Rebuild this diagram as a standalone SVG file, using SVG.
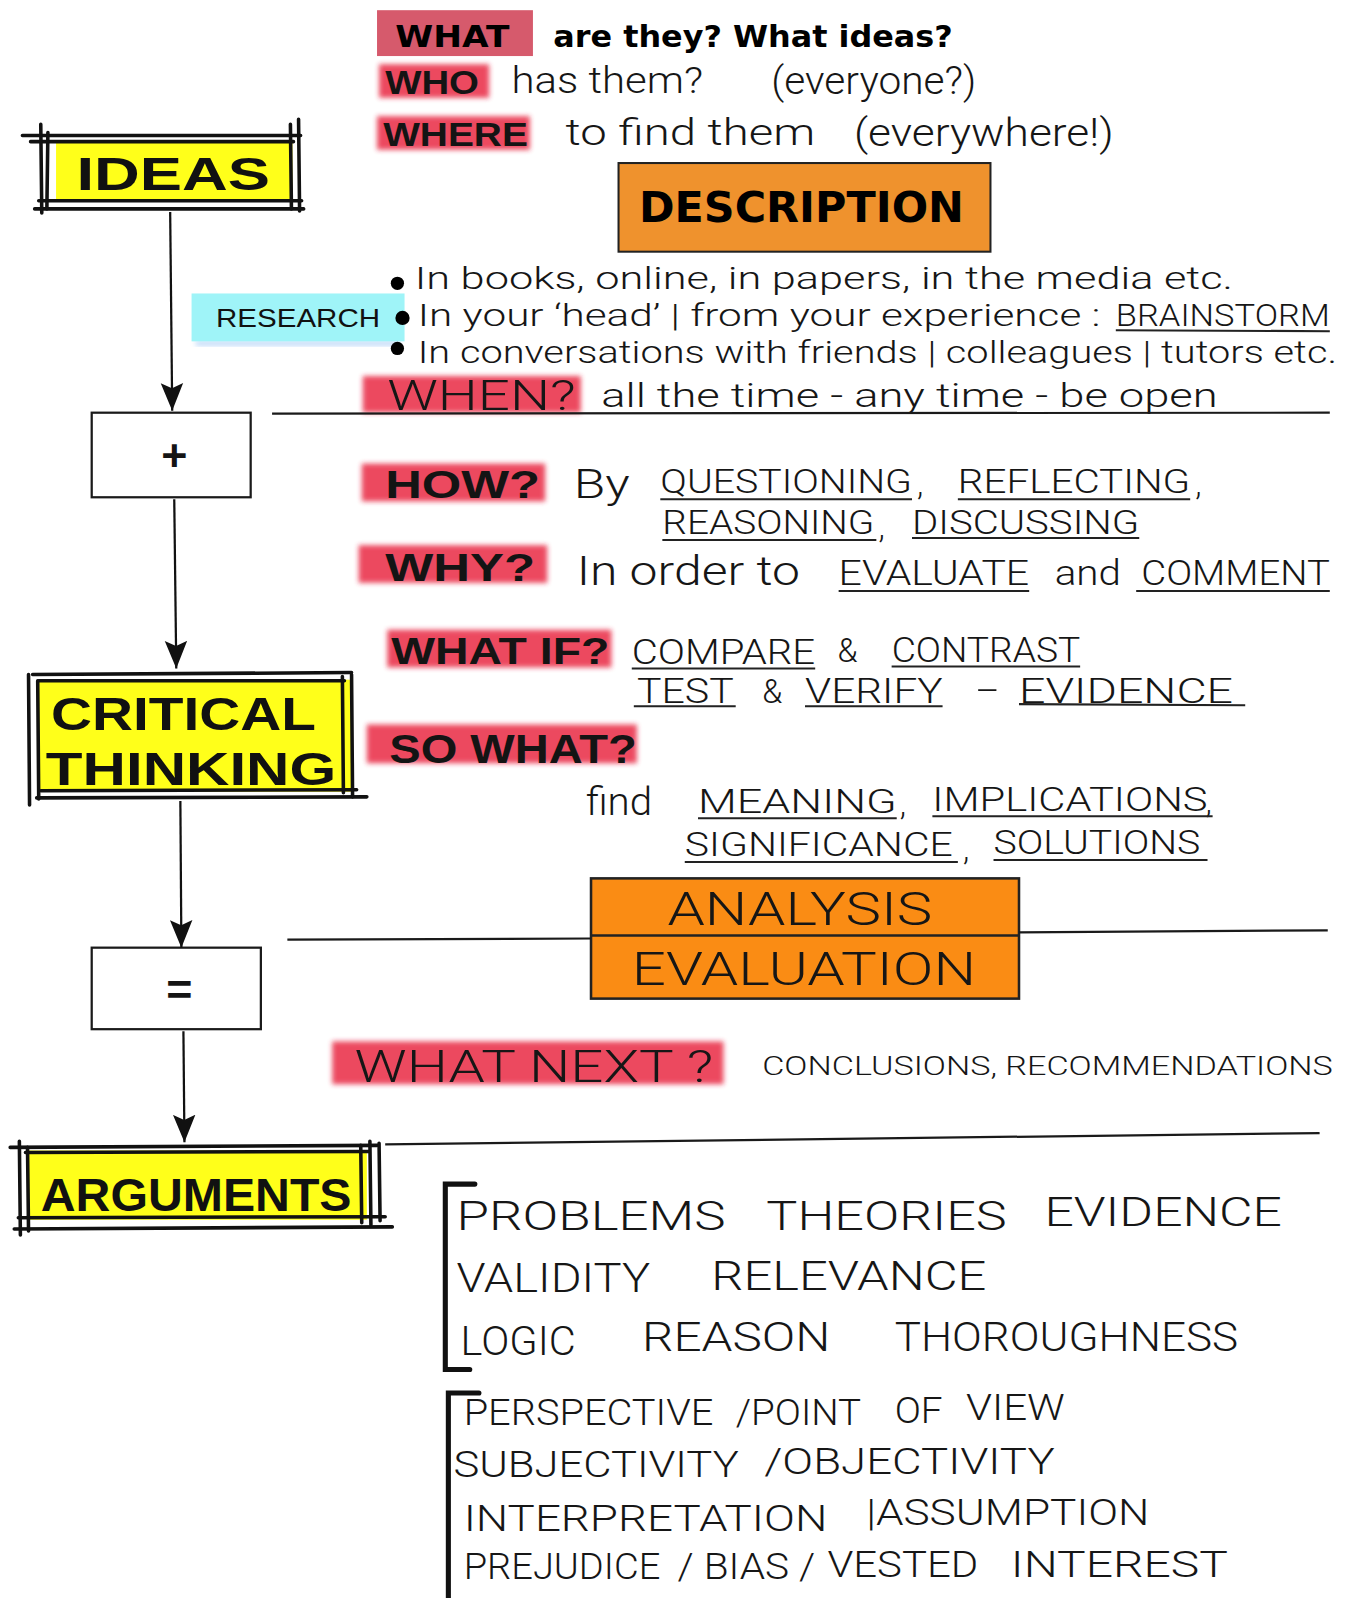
<svg xmlns="http://www.w3.org/2000/svg" width="1349" height="1598" viewBox="0 0 1349 1598">
  <defs>
    <filter id="smudge" x="-10%" y="-30%" width="120%" height="160%">
      <feGaussianBlur stdDeviation="2.6"/>
    </filter>
    <marker id="head" viewBox="0 -12 28 24" refX="27" refY="0" markerWidth="28" markerHeight="24" markerUnits="userSpaceOnUse" orient="auto">
      <path d="M0,-11 L27,0 L0,11 L5,0 Z" fill="#111"/>
    </marker>
    <style>
      .hand { font-family: Roboto, "Liberation Sans", "DejaVu Sans", sans-serif; font-weight: 300; fill: #161616; }
      .bold { font-family: "Liberation Sans", "DejaVu Sans", sans-serif; font-weight: bold; fill: #111; }
      .key { font-family: "Liberation Sans", "DejaVu Sans", sans-serif; font-weight: bold; fill: #141414; }
      .comic { font-family: "DejaVu Sans", "Liberation Sans", sans-serif; font-weight: bold; fill: #000; }
      .hl { fill: #e8233c; opacity: 0.82; filter: url(#smudge); }
      .ul { stroke: #222; stroke-width: 2; fill: none; }
      .ink { stroke: #111; fill: none; stroke-linecap: round; }
      .rule { stroke: #1a1a1a; stroke-width: 2.2; fill: none; }
      .conn { stroke: #111; stroke-width: 2.2; fill: none; marker-end: url(#head); }
      .plain { fill: #fff; stroke: #1a1a1a; stroke-width: 2.2; }
      .yellow { fill: #ffff1a; }
    </style>
  </defs>
  <rect width="1349" height="1598" fill="#fff"/>
  <g transform="scale(1.019)">

    <!-- heading questions -->
    <g id="what-heading">
      <rect x="370" y="10" width="153" height="45" fill="#d65a6c"/>
      <text class="comic" x="388" y="46" font-size="30" textLength="112" lengthAdjust="spacingAndGlyphs">WHAT</text>
      <text class="comic" x="543" y="46" font-size="30" textLength="392" lengthAdjust="spacingAndGlyphs">are they? What ideas?</text>
    </g>
    <g id="who-line">
      <rect class="hl" x="372" y="63" width="108" height="33"/>
      <text class="key" x="378" y="92" font-size="33" textLength="92" lengthAdjust="spacingAndGlyphs">WHO</text>
      <text class="hand" x="502" y="91" font-size="36" textLength="188" lengthAdjust="spacingAndGlyphs">has them?</text>
      <text class="hand" x="757" y="92" font-size="38" textLength="201" lengthAdjust="spacingAndGlyphs">(everyone?)</text>
    </g>
    <g id="where-line">
      <rect class="hl" x="370" y="114" width="150" height="33"/>
      <text class="key" x="376" y="143" font-size="33" textLength="142" lengthAdjust="spacingAndGlyphs">WHERE</text>
      <text class="hand" x="555" y="142" font-size="36" textLength="245" lengthAdjust="spacingAndGlyphs">to find them</text>
      <text class="hand" x="838" y="143" font-size="38" textLength="255" lengthAdjust="spacingAndGlyphs">(everywhere!)</text>
    </g>

    <!-- DESCRIPTION -->
    <g id="description">
      <rect x="607" y="160" width="365" height="87" fill="#ef922d" stroke="#222" stroke-width="2"/>
      <text class="comic" x="627" y="218" font-size="42" textLength="319" lengthAdjust="spacingAndGlyphs">DESCRIPTION</text>
    </g>

    <!-- IDEAS -->
    <g id="ideas">
      <rect class="yellow" x="55" y="140" width="232" height="57"/>
      <path class="ink" stroke-width="3.5" d="M22,133 L295,133 M30,139 L288,139 M38,197 L296,197 M34,205 L298,205"/>
      <path class="ink" stroke-width="3.5" d="M40,122 L41,209 M47,130 L46,205 M285,122 L286,205 M293,117 L294,207"/>
      <text class="bold" x="75" y="186" font-size="46" textLength="190" lengthAdjust="spacingAndGlyphs">IDEAS</text>
    </g>

    <!-- RESEARCH tag and bullets -->
    <g id="research">
      <rect x="192" y="335" width="200" height="4" fill="#6aa8f0" opacity="0.5" filter="url(#smudge)"/>
      <rect x="188" y="288" width="209" height="47" fill="#9ff4f8"/>
      <text x="212" y="321" font-family="'Liberation Sans', Arial, sans-serif" font-size="26" fill="#111" textLength="161" lengthAdjust="spacingAndGlyphs">RESEARCH</text>
    </g>
    <g id="sources">
      <circle cx="390" cy="278" r="6.5" fill="#000"/>
      <circle cx="395" cy="312" r="7" fill="#000"/>
      <circle cx="390" cy="342" r="6.5" fill="#000"/>
      <text class="hand" x="407" y="284" font-size="30" textLength="803" lengthAdjust="spacingAndGlyphs">In books, online, in papers, in the media etc.</text>
      <text class="hand" x="410" y="320" font-size="30" textLength="670" lengthAdjust="spacingAndGlyphs">In your ‘head’ | from your experience :</text>
      <text class="hand" x="1095" y="320" font-size="30" textLength="210" lengthAdjust="spacingAndGlyphs">BRAINSTORM</text>
      <path class="ul" d="M1095,324 L1305,325"/>
      <text class="hand" x="410" y="356" font-size="30" textLength="902" lengthAdjust="spacingAndGlyphs">In conversations with friends | colleagues | tutors etc.</text>
    </g>
    <g id="when-line">
      <rect class="hl" x="356" y="369" width="214" height="36"/>
      <text class="hand" x="380" y="402" font-size="42" font-weight="400" textLength="185" lengthAdjust="spacingAndGlyphs">WHEN?</text>
      <text class="hand" x="590" y="399" font-size="32" textLength="605" lengthAdjust="spacingAndGlyphs">all the time - any time - be open</text>
    </g>

    <!-- + -->
    <g id="plus">
      <rect class="plain" x="90" y="405" width="156" height="83"/>
      <text class="key" x="171" y="462" font-size="44" text-anchor="middle">+</text>
    </g>

    <!-- critical thinking questions -->
    <g id="how-line">
      <rect class="hl" x="355" y="455" width="180" height="37"/>
      <text class="key" x="378" y="489" font-size="38" textLength="152" lengthAdjust="spacingAndGlyphs">HOW?</text>
      <text class="hand" x="563" y="489" font-size="40" textLength="55" lengthAdjust="spacingAndGlyphs">By</text>
      <text class="hand" x="648" y="484" font-size="32" textLength="247" lengthAdjust="spacingAndGlyphs">QUESTIONING</text>
      <text class="hand" x="900" y="486" font-size="32">,</text>
      <text class="hand" x="940" y="484" font-size="32" textLength="228" lengthAdjust="spacingAndGlyphs">REFLECTING</text>
      <text class="hand" x="1173" y="486" font-size="32">,</text>
      <path class="ul" d="M648,490 L895,490 M940,490 L1168,490"/>
      <text class="hand" x="650" y="524" font-size="32" textLength="208" lengthAdjust="spacingAndGlyphs">REASONING</text>
      <text class="hand" x="862" y="528" font-size="32">,</text>
      <text class="hand" x="895" y="524" font-size="32" textLength="223" lengthAdjust="spacingAndGlyphs">DISCUSSING</text>
      <path class="ul" d="M650,530 L860,530 M895,528 L1118,528"/>
    </g>
    <g id="why-line">
      <rect class="hl" x="352" y="535" width="185" height="37"/>
      <text class="key" x="378" y="570" font-size="38" textLength="147" lengthAdjust="spacingAndGlyphs">WHY?</text>
      <text class="hand" x="566" y="574" font-size="40" textLength="219" lengthAdjust="spacingAndGlyphs">In order to</text>
      <text class="hand" x="823" y="574" font-size="34" textLength="187" lengthAdjust="spacingAndGlyphs">EVALUATE</text>
      <text class="hand" x="1035" y="574" font-size="34" textLength="65" lengthAdjust="spacingAndGlyphs">and</text>
      <text class="hand" x="1120" y="574" font-size="34" textLength="185" lengthAdjust="spacingAndGlyphs">COMMENT</text>
      <path class="ul" d="M823,580 L1010,580 M1115,580 L1305,580"/>
    </g>
    <g id="whatif-line">
      <rect class="hl" x="380" y="618" width="220" height="37"/>
      <text class="key" x="384" y="652" font-size="36" textLength="214" lengthAdjust="spacingAndGlyphs">WHAT IF?</text>
      <text class="hand" x="620" y="652" font-size="34" textLength="180" lengthAdjust="spacingAndGlyphs">COMPARE</text>
      <text class="hand" x="822" y="650" font-size="32">&amp;</text>
      <text class="hand" x="875" y="650" font-size="34" textLength="185" lengthAdjust="spacingAndGlyphs">CONTRAST</text>
      <path class="ul" d="M620,656 L800,656 M875,654 L1060,654"/>
      <text class="hand" x="625" y="690" font-size="34" textLength="95" lengthAdjust="spacingAndGlyphs">TEST</text>
      <text class="hand" x="748" y="690" font-size="32">&amp;</text>
      <text class="hand" x="790" y="690" font-size="34" textLength="135" lengthAdjust="spacingAndGlyphs">VERIFY</text>
      <text class="hand" x="958" y="688" font-size="34" textLength="22" lengthAdjust="spacingAndGlyphs">-</text>
      <text class="hand" x="1000" y="690" font-size="34" textLength="210" lengthAdjust="spacingAndGlyphs">EVIDENCE</text>
      <path class="ul" d="M622,693 L722,693 M790,693 L925,693 M1000,691 L1222,692"/>
    </g>
    <g id="sowhat-line">
      <rect class="hl" x="360" y="711" width="265" height="38"/>
      <text class="key" x="382" y="749" font-size="40" textLength="243" lengthAdjust="spacingAndGlyphs">SO WHAT?</text>
      <text class="hand" x="575" y="800" font-size="38" textLength="65" lengthAdjust="spacingAndGlyphs">find</text>
      <text class="hand" x="685" y="798" font-size="32" textLength="195" lengthAdjust="spacingAndGlyphs">MEANING</text>
      <text class="hand" x="883" y="800" font-size="32">,</text>
      <text class="hand" x="915" y="796" font-size="32" textLength="270" lengthAdjust="spacingAndGlyphs">IMPLICATIONS</text>
      <text class="hand" x="1183" y="798" font-size="32">,</text>
      <path class="ul" d="M685,803 L880,803 M915,801 L1190,801"/>
      <text class="hand" x="672" y="840" font-size="32" textLength="263" lengthAdjust="spacingAndGlyphs">SIGNIFICANCE</text>
      <text class="hand" x="945" y="844" font-size="32">,</text>
      <text class="hand" x="975" y="838" font-size="32" textLength="203" lengthAdjust="spacingAndGlyphs">SOLUTIONS</text>
      <path class="ul" d="M672,846 L940,846 M975,844 L1185,844"/>
    </g>

    <!-- CRITICAL THINKING -->
    <g id="critical-thinking">
      <rect class="yellow" x="38" y="667" width="308" height="110"/>
      <path class="ink" stroke-width="3.5" d="M32,662 L345,660 M38,668 L338,668 M40,776 L350,775 M36,783 L360,782"/>
      <path class="ink" stroke-width="3.5" d="M28,662 L29,790 M37,668 L38,784 M336,664 L337,778 M345,662 L346,782"/>
      <text class="bold" x="50" y="716" font-size="46" textLength="260" lengthAdjust="spacingAndGlyphs">CRITICAL</text>
      <text class="bold" x="45" y="770" font-size="46" textLength="285" lengthAdjust="spacingAndGlyphs">THINKING</text>
    </g>

    <!-- ANALYSIS / EVALUATION -->
    <g id="analysis-evaluation">
      <rect x="580" y="862" width="420" height="118" fill="#fa8c14" stroke="#222" stroke-width="2.5"/>
      <path d="M580,918 L1000,918" stroke="#222" stroke-width="2.5"/>
      <text class="hand" x="655" y="908" font-size="46" font-weight="400" textLength="260" lengthAdjust="spacingAndGlyphs">ANALYSIS</text>
      <text class="hand" x="620" y="967" font-size="46" font-weight="400" textLength="338" lengthAdjust="spacingAndGlyphs">EVALUATION</text>
    </g>

    <!-- = -->
    <g id="equals">
      <rect class="plain" x="90" y="930" width="166" height="80"/>
      <text class="key" x="176" y="986" font-size="44" text-anchor="middle">=</text>
    </g>

    <!-- WHAT NEXT -->
    <g id="whatnext-line">
      <rect class="hl" x="326" y="1022" width="384" height="42"/>
      <text class="hand" x="348" y="1062" font-size="44" font-weight="400" textLength="352" lengthAdjust="spacingAndGlyphs">WHAT NEXT ?</text>
      <text class="hand" x="748" y="1055" font-size="26" textLength="560" lengthAdjust="spacingAndGlyphs">CONCLUSIONS, RECOMMENDATIONS</text>
    </g>

    <!-- ARGUMENTS -->
    <g id="arguments">
      <rect class="yellow" x="28" y="1129" width="332" height="68"/>
      <path class="ink" stroke-width="3.5" d="M10,1126 L370,1124 M25,1131 L362,1130 M18,1195 L378,1194 M14,1206 L385,1204"/>
      <path class="ink" stroke-width="3.5" d="M19,1120 L20,1212 M27,1126 L28,1208 M354,1124 L355,1200 M363,1120 L364,1202 M372,1122 L373,1198"/>
      <text class="bold" x="40" y="1188" font-size="46" textLength="305" lengthAdjust="spacingAndGlyphs">ARGUMENTS</text>
    </g>

    <!-- argument qualities -->
    <g id="qualities">
      <path class="ink" stroke-width="5" stroke-linecap="butt" d="M466,1162 L437,1162 L437,1344 L461,1344"/>
      <text class="hand" x="448" y="1207" font-size="40" textLength="264" lengthAdjust="spacingAndGlyphs">PROBLEMS</text>
      <text class="hand" x="752" y="1207" font-size="40" textLength="236" lengthAdjust="spacingAndGlyphs">THEORIES</text>
      <text class="hand" x="1025" y="1203" font-size="40" textLength="233" lengthAdjust="spacingAndGlyphs">EVIDENCE</text>
      <text class="hand" x="448" y="1268" font-size="40" textLength="190" lengthAdjust="spacingAndGlyphs">VALIDITY</text>
      <text class="hand" x="698" y="1266" font-size="40" textLength="270" lengthAdjust="spacingAndGlyphs">RELEVANCE</text>
      <text class="hand" x="452" y="1330" font-size="40" textLength="113" lengthAdjust="spacingAndGlyphs">LOGIC</text>
      <text class="hand" x="630" y="1326" font-size="40" textLength="185" lengthAdjust="spacingAndGlyphs">REASON</text>
      <text class="hand" x="878" y="1326" font-size="40" textLength="337" lengthAdjust="spacingAndGlyphs">THOROUGHNESS</text>
    </g>
    <g id="viewpoints">
      <path class="ink" stroke-width="5" stroke-linecap="butt" d="M470,1367 L440,1367 L440,1570"/>
      <text class="hand" x="455" y="1398" font-size="36" textLength="245" lengthAdjust="spacingAndGlyphs">PERSPECTIVE</text>
      <text class="hand" x="722" y="1398" font-size="36" textLength="123" lengthAdjust="spacingAndGlyphs">/POINT</text>
      <text class="hand" x="878" y="1396" font-size="36" textLength="47" lengthAdjust="spacingAndGlyphs">OF</text>
      <text class="hand" x="948" y="1394" font-size="36" textLength="97" lengthAdjust="spacingAndGlyphs">VIEW</text>
      <text class="hand" x="445" y="1449" font-size="36" textLength="280" lengthAdjust="spacingAndGlyphs">SUBJECTIVITY</text>
      <text class="hand" x="750" y="1447" font-size="36" textLength="285" lengthAdjust="spacingAndGlyphs">/OBJECTIVITY</text>
      <text class="hand" x="455" y="1502" font-size="36" textLength="357" lengthAdjust="spacingAndGlyphs">INTERPRETATION</text>
      <text class="hand" x="850" y="1497" font-size="36" textLength="278" lengthAdjust="spacingAndGlyphs">|ASSUMPTION</text>
      <text class="hand" x="455" y="1550" font-size="36" textLength="193" lengthAdjust="spacingAndGlyphs">PREJUDICE</text>
      <text class="hand" x="665" y="1550" font-size="36" textLength="135" lengthAdjust="spacingAndGlyphs">/ BIAS /</text>
      <text class="hand" x="812" y="1548" font-size="36" textLength="148" lengthAdjust="spacingAndGlyphs">VESTED</text>
      <text class="hand" x="992" y="1548" font-size="36" textLength="213" lengthAdjust="spacingAndGlyphs">INTEREST</text>
    </g>

    <!-- section dividers -->
    <g id="dividers">
      <path class="rule" d="M267,406 L1305,405"/>
      <path class="rule" d="M282,922 L580,921"/>
      <path class="rule" d="M1000,915 L1303,913"/>
      <path class="rule" d="M378,1123 L1295,1112"/>
    </g>

    <!-- flow arrows -->
    <g id="connectors">
      <path class="conn" d="M167,208 L169,403"/>
      <path class="conn" d="M171,490 L173,656"/>
      <path class="conn" d="M177,786 L178,930"/>
      <path class="conn" d="M180,1012 L181,1121"/>
    </g>
  </g>
</svg>
